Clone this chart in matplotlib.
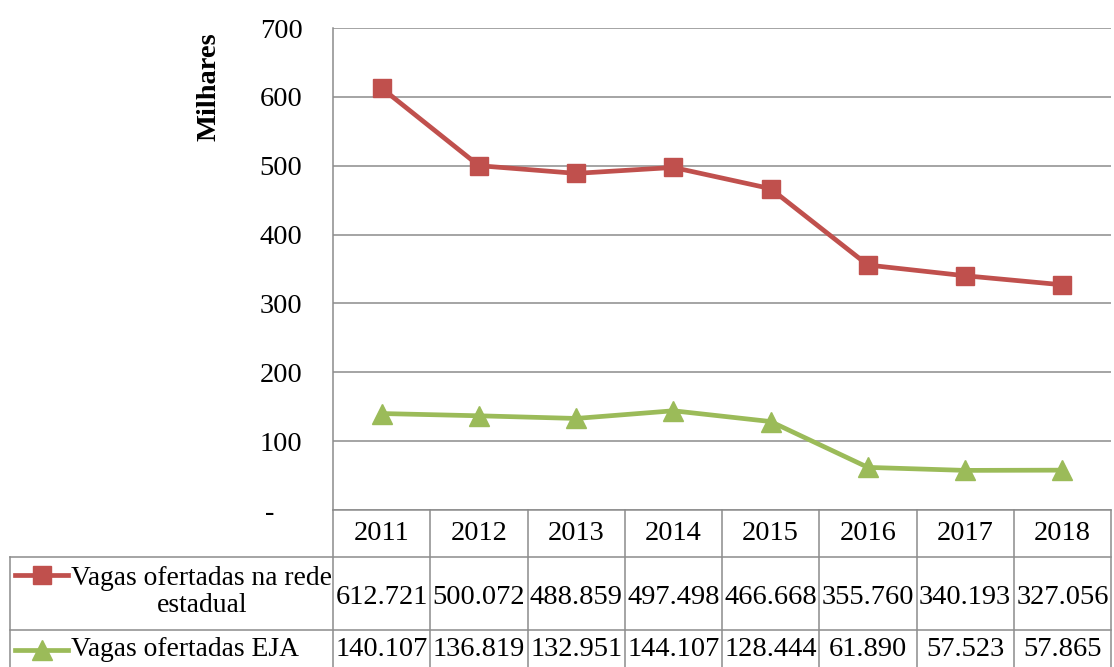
import numpy as np
import matplotlib
matplotlib.use('Agg')
import matplotlib.pyplot as plt

plt.rcParams['font.family'] = ['Liberation Serif', 'DejaVu Serif']

years = ['2011', '2012', '2013', '2014', '2015', '2016', '2017', '2018']
rede_estadual = [612.721, 500.072, 488.859, 497.498, 466.668, 355.760, 340.193, 327.056]
eja = [140.107, 136.819, 132.951, 144.107, 128.444, 61.890, 57.523, 57.865]
series_names = ['Vagas ofertadas na rede\nestadual', 'Vagas ofertadas EJA']
yticks = [0, 100, 200, 300, 400, 500, 600, 700]
ytick_labels = ['-    ', '100', '200', '300', '400', '500', '600', '700']

red = '#C0504D'
green = '#9BBB59'
grid_c = '#8c8c8c'
fs = 20.5

W, H = 1114, 667
fig = plt.figure(figsize=(W / 100, H / 100), dpi=100)

# plot area in pixels
left, right, top, bottom = 333, 1111, 28, 510
ax = fig.add_axes([left / W, (H - bottom) / H, (right - left) / W, (bottom - top) / H])

x = np.arange(len(years))
ax.plot(x, rede_estadual, color=red, lw=3.4, marker='s', ms=13, zorder=3)
ax.plot(x, eja, color=green, lw=3.4, marker='^', ms=14, zorder=3)

ax.set_xlim(-0.5, len(years) - 0.5)
ax.set_ylim(0, 700)
ax.set_yticks(yticks)
ax.set_yticklabels(ytick_labels, fontsize=fs)
ax.set_xticks([])
ax.tick_params(axis='y', length=0, pad=22)
ax.yaxis.grid(True, color=grid_c, lw=1.1)
for s in ['top', 'right', 'bottom']:
    ax.spines[s].set_visible(False)
ax.spines['left'].set_color(grid_c)
ax.spines['left'].set_linewidth(1.1)
ax.set_ylabel('Milhares', fontsize=fs, fontweight='bold')
ax.yaxis.set_label_coords((222 - left) / (right - left), (bottom - 87) / (bottom - top))

# data table below the plot
tleft = 10
col_w = (right - left) / len(years)
label_w = (left - tleft) / col_w
tax = fig.add_axes([tleft / W, 0, (right - tleft) / W, (H - bottom) / H])
tax.set_xlim(-0.5 - label_w, len(years) - 0.5)
tax.set_ylim(H - bottom, 0)
tax.axis('off')

row_edges = [0, 47, 120]
# horizontal lines
tax.plot([-0.5, len(years) - 0.5], [0, 0], color=grid_c, lw=1.1, clip_on=False)
for yy in row_edges[1:]:
    tax.plot([-0.5 - label_w, len(years) - 0.5], [yy, yy], color=grid_c, lw=1.1, clip_on=False)
# vertical lines
for i in range(len(years) + 1):
    tax.plot([i - 0.5, i - 0.5], [0, H - bottom], color=grid_c, lw=1.1, clip_on=False)
tax.plot([-0.5 - label_w] * 2, [row_edges[1], H - bottom], color=grid_c, lw=1.1, clip_on=False)

for i, yr in enumerate(years):
    tax.text(i, 23.5, yr, ha='center', va='center', fontsize=fs)
    tax.text(i, 88, f'{rede_estadual[i]:.3f}', ha='center', va='center', fontsize=fs)
    tax.text(i, 140, f'{eja[i]:.3f}', ha='center', va='center', fontsize=fs)

# legend keys inside the table
ls_x0 = -0.5 - label_w + 5 / col_w
ls_x1 = -0.5 - label_w + 58 / col_w
tax.plot([ls_x0, ls_x1], [65, 65], color=red, lw=3.4, clip_on=False)
tax.plot([(ls_x0 + ls_x1) / 2], [65], color=red, marker='s', ms=13, clip_on=False)
tax.plot([ls_x0, ls_x1], [140, 140], color=green, lw=3.4, clip_on=False)
tax.plot([(ls_x0 + ls_x1) / 2], [140], color=green, marker='^', ms=14, clip_on=False)

lab_fs = 19.8
lab_c = -0.5 - label_w + (202 - tleft) / col_w
tax.text(lab_c, 82, series_names[0], ha='center', va='center', multialignment='center',
         fontsize=lab_fs, linespacing=1.15)
tax.text(ls_x1 + 3 / col_w, 140, series_names[1], ha='left', va='center', fontsize=lab_fs)

fig.savefig('out.png', dpi=100)
